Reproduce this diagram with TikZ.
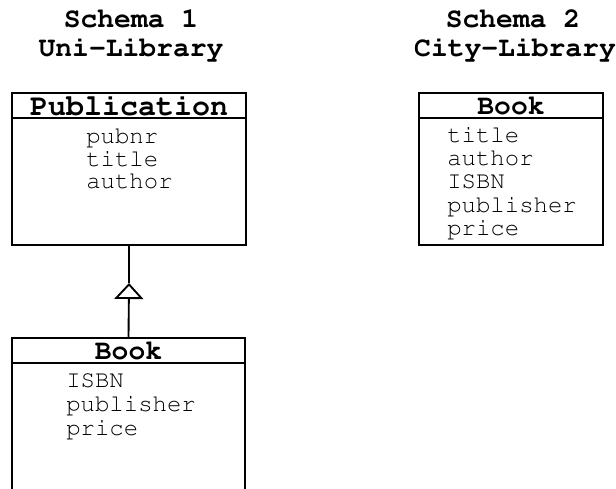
\documentclass[tikz,border=0pt]{standalone}
\usetikzlibrary{arrows.meta,positioning}
\newcommand\courierfont{\fontencoding{T1}\fontfamily{pcr}\selectfont}

\begin{document}
\begin{tikzpicture}[x=0.75pt,y=-0.75pt]
\tikzset{
  schematitle/.style={anchor=base,inner sep=0pt,font=\courierfont\bfseries\fontsize{21}{21}\selectfont},
  classhead/.style={draw,line width=1.8pt,inner sep=0pt,outer sep=0pt,minimum height=18.75pt,font=\courierfont\bfseries\fontsize{21}{21}\selectfont},
  classbody/.style={draw,line width=1.8pt,inner sep=0pt,outer sep=0pt,anchor=north},
  attr/.style={anchor=base west,inner sep=0pt,font=\courierfont\fontsize{18}{18}\selectfont},
  generalize/.style={-{Triangle[open,length=12pt,width=21.75pt]},line width=1.4pt}
}
\useasboundingbox (0,0) rectangle (616,488);
\clip (0,0) rectangle (616,488);
% schema titles
\node[schematitle] (t_s1) at (131,28) {Schema 1};
\node[schematitle] (t_uni) at (131,57) {Uni-Library};
\node[schematitle] (t_s2) at (513,28) {Schema 2};
\node[schematitle] (t_city) at (515,57) {City-Library};
% schema 1: Publication <|-- Book
\node[classhead,minimum width=175.5pt,font=\courierfont\bfseries\fontsize{22.5}{22.5}\selectfont] (pubhead) at (129,105.5) {Publication};
\node[classbody,minimum width=175.5pt,minimum height=95.25pt,below=0pt of pubhead] (pubbody) {};
\node[attr] (a_pubnr) at (86,144) {pubnr};
\node[attr] (a_title1) at (86,166.5) {title};
\node[attr] (a_author1) at (86,189) {author};
\node[classhead,minimum width=174.75pt] (bookhead) at (128.5,350.5) {Book};
\node[classbody,minimum width=174.75pt,minimum height=110.25pt,below=0pt of bookhead] (bookbody) {};
\node[attr] (a_isbn1) at (66,387) {ISBN};
\node[attr] (a_publisher1) at (66,411) {publisher};
\node[attr] (a_price1) at (66,435) {price};
\coordinate (gen) at (129,283);
\draw[line width=1.4pt] (pubbody.south) -- (gen);
\draw[generalize] (bookhead.north) -- (gen);
% schema 2: Book
\node[classhead,minimum width=138pt] (cbookhead) at (511,105.5) {Book};
\node[classbody,minimum width=138pt,minimum height=95.25pt,below=0pt of cbookhead] (cbookbody) {};
\node[attr] (a_title2) at (447,143) {title};
\node[attr] (a_author2) at (447,166) {author};
\node[attr] (a_isbn2) at (447,189) {ISBN};
\node[attr] (a_publisher2) at (447,212) {publisher};
\node[attr] (a_price2) at (447,235) {price};
\end{tikzpicture}
\end{document}
